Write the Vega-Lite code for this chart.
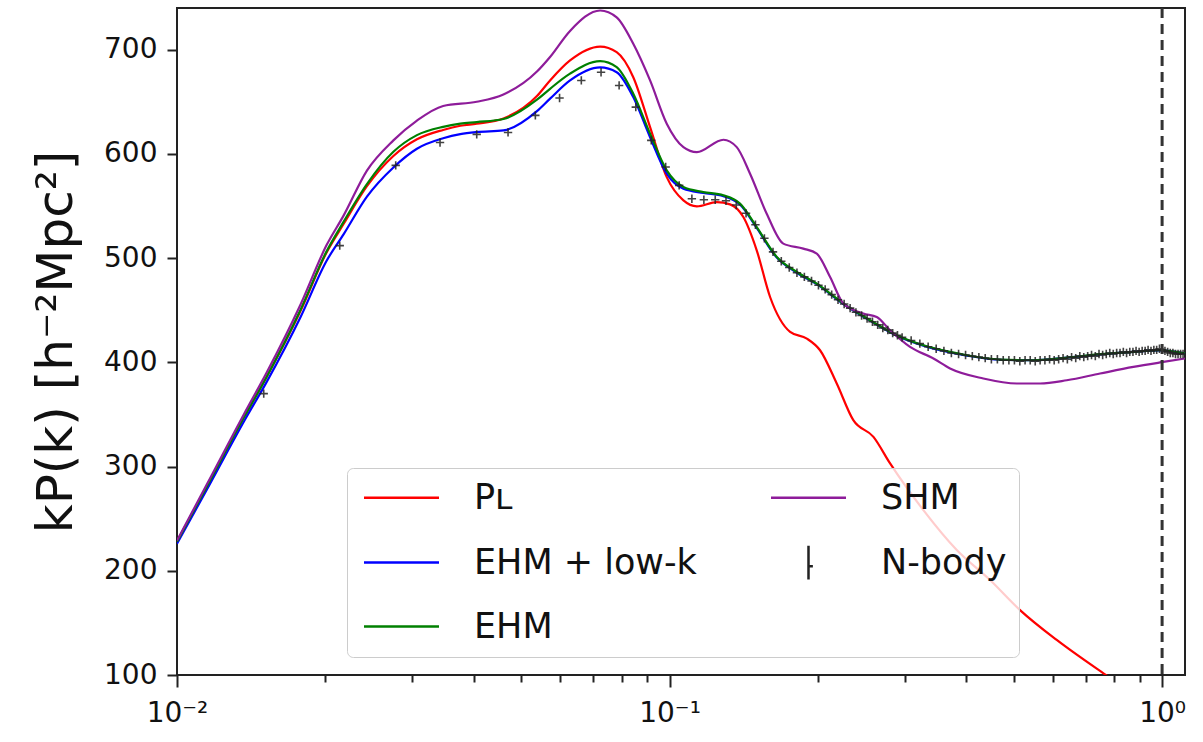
{
  "$schema": "https://vega.github.io/schema/vega-lite/v6.json",
  "width": 1008,
  "height": 667,
  "autosize": {"type": "none"},
  "padding": {"left": 177, "top": 8, "right": 18, "bottom": 67},
  "background": "white",
  "config": {
    "font": "DejaVu Sans",
    "view": {"stroke": "#222", "strokeWidth": 2}
  },
  "datasets": {
    "pl": [
      {"k": 0.0100, "v": 228}, {"k": 0.0115, "v": 281}, {"k": 0.0137, "v": 348}, {"k": 0.0152, "v": 386},
      {"k": 0.0178, "v": 449}, {"k": 0.0201, "v": 505}, {"k": 0.0218, "v": 533}, {"k": 0.0243, "v": 569},
      {"k": 0.0275, "v": 598}, {"k": 0.0307, "v": 614}, {"k": 0.0347, "v": 623}, {"k": 0.0376, "v": 627},
      {"k": 0.0406, "v": 629}, {"k": 0.0460, "v": 634}, {"k": 0.0538, "v": 655.5}, {"k": 0.0572, "v": 670.5},
      {"k": 0.0628, "v": 689.7}, {"k": 0.0723, "v": 703}, {"k": 0.0781, "v": 697.6}, {"k": 0.0844, "v": 673.6},
      {"k": 0.0913, "v": 625.7}, {"k": 0.0987, "v": 577.7}, {"k": 0.1067, "v": 555.4}, {"k": 0.1136, "v": 549.7},
      {"k": 0.1247, "v": 553.8}, {"k": 0.1327, "v": 551.6}, {"k": 0.1412, "v": 539.4}, {"k": 0.1503, "v": 507.5},
      {"k": 0.1600, "v": 462.7}, {"k": 0.1757, "v": 429.2}, {"k": 0.1900, "v": 422.8}, {"k": 0.2021, "v": 411.6},
      {"k": 0.2185, "v": 379.7}, {"k": 0.2361, "v": 344.5}, {"k": 0.2594, "v": 328.5}, {"k": 0.2804, "v": 303},
      {"k": 0.3276, "v": 258.2}, {"k": 0.3829, "v": 219.9}, {"k": 0.4474, "v": 191.1}, {"k": 0.5147, "v": 162.3},
      {"k": 0.6110, "v": 133.6}, {"k": 0.7602, "v": 101.6}, {"k": 0.85, "v": 86}, {"k": 1.0, "v": 64}, {"k": 1.12, "v": 52}
    ],
    "lowk": [
      {"k": 0.0100, "v": 226}, {"k": 0.0115, "v": 278}, {"k": 0.0137, "v": 344}, {"k": 0.0152, "v": 381},
      {"k": 0.0178, "v": 443}, {"k": 0.0201, "v": 497}, {"k": 0.0218, "v": 523}, {"k": 0.0243, "v": 559},
      {"k": 0.0275, "v": 587}, {"k": 0.0307, "v": 605}, {"k": 0.0347, "v": 615}, {"k": 0.0376, "v": 619},
      {"k": 0.0406, "v": 621}, {"k": 0.0460, "v": 622.5}, {"k": 0.0538, "v": 641}, {"k": 0.0572, "v": 653},
      {"k": 0.0628, "v": 670.5}, {"k": 0.0723, "v": 683}, {"k": 0.0781, "v": 678.4}, {"k": 0.0844, "v": 654.5},
      {"k": 0.0913, "v": 616}, {"k": 0.0987, "v": 581}, {"k": 0.1067, "v": 566.5}, {"k": 0.1171, "v": 562.5},
      {"k": 0.1286, "v": 559.5}, {"k": 0.1390, "v": 551.5}, {"k": 0.1503, "v": 529}, {"k": 0.1651, "v": 500.5},
      {"k": 0.1813, "v": 486}, {"k": 0.1990, "v": 475}, {"k": 0.2254, "v": 456}, {"k": 0.2553, "v": 440},
      {"k": 0.2892, "v": 425.5}, {"k": 0.3276, "v": 416}, {"k": 0.3711, "v": 409.5}, {"k": 0.4013, "v": 406.5},
      {"k": 0.4690, "v": 402.5}, {"k": 0.5471, "v": 402}, {"k": 0.6405, "v": 404.5}, {"k": 0.7484, "v": 407.5},
      {"k": 0.8733, "v": 410}, {"k": 0.9906, "v": 411.5}, {"k": 1.113, "v": 408.5}
    ],
    "ehm": [
      {"k": 0.0100, "v": 228}, {"k": 0.0115, "v": 281}, {"k": 0.0137, "v": 348}, {"k": 0.0152, "v": 386},
      {"k": 0.0178, "v": 450}, {"k": 0.0201, "v": 506}, {"k": 0.0218, "v": 535}, {"k": 0.0243, "v": 571},
      {"k": 0.0275, "v": 602}, {"k": 0.0307, "v": 618}, {"k": 0.0347, "v": 626}, {"k": 0.0376, "v": 629},
      {"k": 0.0406, "v": 630.5}, {"k": 0.0460, "v": 633.5}, {"k": 0.0538, "v": 652}, {"k": 0.0572, "v": 662.5},
      {"k": 0.0628, "v": 677}, {"k": 0.0723, "v": 689}, {"k": 0.0781, "v": 683.3}, {"k": 0.0844, "v": 657.7},
      {"k": 0.0913, "v": 619.4}, {"k": 0.0987, "v": 584.2}, {"k": 0.1067, "v": 568.2}, {"k": 0.1171, "v": 563.4},
      {"k": 0.1286, "v": 560.2}, {"k": 0.1390, "v": 552.3}, {"k": 0.1503, "v": 529.8}, {"k": 0.1651, "v": 501.1},
      {"k": 0.1813, "v": 486.7}, {"k": 0.1990, "v": 475.6}, {"k": 0.2254, "v": 456.4}, {"k": 0.2553, "v": 440.4},
      {"k": 0.2892, "v": 426}, {"k": 0.3276, "v": 416.4}, {"k": 0.3711, "v": 410}, {"k": 0.4013, "v": 406.8},
      {"k": 0.4690, "v": 402.7}, {"k": 0.5471, "v": 402}, {"k": 0.6405, "v": 404.6}, {"k": 0.7484, "v": 407.8},
      {"k": 0.8733, "v": 410}, {"k": 0.9906, "v": 411.6}, {"k": 1.113, "v": 408.7}
    ],
    "shm": [
      {"k": 0.0100, "v": 229}, {"k": 0.0115, "v": 283}, {"k": 0.0137, "v": 351}, {"k": 0.0152, "v": 390},
      {"k": 0.0178, "v": 455}, {"k": 0.0201, "v": 512}, {"k": 0.0218, "v": 541}, {"k": 0.0243, "v": 584},
      {"k": 0.0275, "v": 613}, {"k": 0.0307, "v": 632}, {"k": 0.0347, "v": 646}, {"k": 0.0406, "v": 650},
      {"k": 0.0460, "v": 657}, {"k": 0.0538, "v": 679}, {"k": 0.0572, "v": 693}, {"k": 0.0628, "v": 718},
      {"k": 0.0723, "v": 737.6}, {"k": 0.0781, "v": 731}, {"k": 0.0844, "v": 705.7}, {"k": 0.0913, "v": 670.5},
      {"k": 0.0987, "v": 629}, {"k": 0.1067, "v": 606.5}, {"k": 0.1136, "v": 601.7}, {"k": 0.1286, "v": 613.6},
      {"k": 0.1369, "v": 606.5}, {"k": 0.1457, "v": 581}, {"k": 0.1575, "v": 542.6}, {"k": 0.1702, "v": 513.9},
      {"k": 0.1869, "v": 509.1}, {"k": 0.1990, "v": 504.3}, {"k": 0.2118, "v": 481.9}, {"k": 0.2254, "v": 456.4},
      {"k": 0.2474, "v": 446.8}, {"k": 0.2634, "v": 443.5}, {"k": 0.2804, "v": 430.8}, {"k": 0.3078, "v": 414.8},
      {"k": 0.3434, "v": 403.7}, {"k": 0.3711, "v": 394.1}, {"k": 0.4336, "v": 384.5}, {"k": 0.5070, "v": 379.7},
      {"k": 0.5652, "v": 379.7}, {"k": 0.6405, "v": 382.8}, {"k": 0.7484, "v": 389.3}, {"k": 0.8745, "v": 395.6},
      {"k": 1.006, "v": 400.4}, {"k": 1.113, "v": 403.7}
    ],
    "nbody": [
      {"k": 0.0150, "v": 370}, {"k": 0.0214, "v": 512}, {"k": 0.0278, "v": 589}, {"k": 0.0342, "v": 611},
      {"k": 0.0406, "v": 618.7}, {"k": 0.0470, "v": 620.6}, {"k": 0.0534, "v": 637}, {"k": 0.0598, "v": 653.6},
      {"k": 0.0662, "v": 670.5}, {"k": 0.0726, "v": 678.4}, {"k": 0.0790, "v": 665.7}, {"k": 0.0854, "v": 644.9},
      {"k": 0.0918, "v": 613}, {"k": 0.0982, "v": 587.4}, {"k": 0.1046, "v": 569.8}, {"k": 0.1110, "v": 557},
      {"k": 0.1174, "v": 556}, {"k": 0.1238, "v": 556}, {"k": 0.1302, "v": 555}, {"k": 0.1366, "v": 551},
      {"k": 0.1430, "v": 543}, {"k": 0.1494, "v": 532}, {"k": 0.1558, "v": 519}, {"k": 0.1622, "v": 506},
      {"k": 0.1686, "v": 497}, {"k": 0.1750, "v": 491}, {"k": 0.1814, "v": 486}, {"k": 0.1878, "v": 482},
      {"k": 0.1942, "v": 478}, {"k": 0.2006, "v": 474}, {"k": 0.2070, "v": 470}, {"k": 0.2134, "v": 465},
      {"k": 0.2198, "v": 460}, {"k": 0.2262, "v": 456}, {"k": 0.2326, "v": 452}, {"k": 0.2390, "v": 448},
      {"k": 0.2454, "v": 445}, {"k": 0.2518, "v": 442}, {"k": 0.2582, "v": 439}, {"k": 0.2646, "v": 436},
      {"k": 0.2710, "v": 433}, {"k": 0.2774, "v": 431}, {"k": 0.2838, "v": 428}, {"k": 0.2902, "v": 426},
      {"k": 0.2966, "v": 424}, {"k": 0.3094, "v": 421}, {"k": 0.3222, "v": 418}, {"k": 0.3350, "v": 415},
      {"k": 0.3478, "v": 413}, {"k": 0.3606, "v": 411}, {"k": 0.3734, "v": 409}, {"k": 0.3862, "v": 408},
      {"k": 0.3990, "v": 407}, {"k": 0.4118, "v": 406}, {"k": 0.4246, "v": 405}, {"k": 0.4374, "v": 404},
      {"k": 0.4502, "v": 403}, {"k": 0.4630, "v": 403}, {"k": 0.4758, "v": 402}, {"k": 0.4886, "v": 402},
      {"k": 0.5014, "v": 402}, {"k": 0.5142, "v": 401}, {"k": 0.5270, "v": 402}, {"k": 0.5398, "v": 402},
      {"k": 0.5526, "v": 401}, {"k": 0.5654, "v": 402}, {"k": 0.5782, "v": 402}, {"k": 0.5910, "v": 403},
      {"k": 0.6038, "v": 402}, {"k": 0.6166, "v": 403}, {"k": 0.6294, "v": 404}, {"k": 0.6422, "v": 403},
      {"k": 0.6550, "v": 405}, {"k": 0.6678, "v": 404}, {"k": 0.6806, "v": 406}, {"k": 0.6934, "v": 405},
      {"k": 0.7062, "v": 406}, {"k": 0.7190, "v": 407}, {"k": 0.7318, "v": 406}, {"k": 0.7446, "v": 408},
      {"k": 0.7574, "v": 407}, {"k": 0.7702, "v": 408}, {"k": 0.7830, "v": 409}, {"k": 0.7958, "v": 408},
      {"k": 0.8086, "v": 409}, {"k": 0.8214, "v": 409}, {"k": 0.8342, "v": 410}, {"k": 0.8470, "v": 409},
      {"k": 0.8598, "v": 410}, {"k": 0.8726, "v": 410}, {"k": 0.8854, "v": 411}, {"k": 0.8982, "v": 410},
      {"k": 0.9110, "v": 411}, {"k": 0.9238, "v": 411}, {"k": 0.9366, "v": 412}, {"k": 0.9494, "v": 411},
      {"k": 0.9622, "v": 412}, {"k": 0.9750, "v": 412}, {"k": 0.9878, "v": 413}, {"k": 1.0006, "v": 412},
      {"k": 1.0134, "v": 411}, {"k": 1.0262, "v": 410}, {"k": 1.0390, "v": 409}, {"k": 1.0518, "v": 409},
      {"k": 1.0646, "v": 408}, {"k": 1.0774, "v": 408}, {"k": 1.0902, "v": 408}, {"k": 1.1030, "v": 408}
    ],
    "vline": [{"k": 1}]
  },
  "layer": [
    {
      "data": {"name": "pl"},
      "mark": {"type": "line", "clip": true, "strokeWidth": 2.2, "interpolate": "monotone"},
      "encoding": {
        "x": {
          "field": "k", "type": "quantitative",
          "scale": {"type": "log", "domain": [0.01, 1.113], "nice": false},
          "axis": {
            "title": null,
            "grid": false,
            "domain": false,
            "values": [0.01, 0.02, 0.03, 0.04, 0.05, 0.06, 0.07, 0.08, 0.09, 0.1, 0.2, 0.3, 0.4, 0.5, 0.6, 0.7, 0.8, 0.9, 1],
            "labelExpr": "datum.value == 0.01 ? '10⁻²' : (datum.value == 0.1 ? '10⁻¹' : (datum.value == 1 ? '10⁰' : ''))",
            "labelOverlap": false,
            "labelFlush": false,
            "labelBound": false,
            "labelFontSize": 28,
            "labelColor": "#111",
            "labelPadding": 12,
            "tickColor": "#222",
            "tickWidth": 2,
            "tickSize": {"condition": {"test": "datum.value == 0.01 || datum.value == 0.1 || datum.value == 1", "value": 12}, "value": 7}
          }
        },
        "y": {
          "field": "v", "type": "quantitative",
          "scale": {"domain": [100, 740], "nice": false, "zero": false},
          "axis": {
            "title": "kP(k) [h⁻²Mpc²]",
            "titleFontSize": 50,
            "titleFontWeight": "normal",
            "titleColor": "#111",
            "titlePadding": 22,
            "grid": false,
            "domain": false,
            "values": [100, 200, 300, 400, 500, 600, 700],
            "labelFontSize": 28,
            "labelColor": "#111",
            "labelPadding": 10,
            "tickColor": "#222",
            "tickWidth": 2,
            "tickSize": 10
          }
        },
        "color": {
          "datum": "P_L",
          "type": "nominal",
          "scale": {
            "domain": ["P_L", "EHM + low-k", "EHM", "SHM", "N-body"],
            "range": ["#ff0000", "#0000ff", "#008000", "#8e1c9a", "#222222"]
          },
          "legend": {
            "title": null,
            "orient": "none",
            "legendX": 170,
            "legendY": 460,
            "columns": 2,
            "columnPadding": 69,
            "rowPadding": 24,
            "padding": 12,
            "fillColor": "rgba(255,255,255,0.8)",
            "strokeColor": "#cccccc",
            "cornerRadius": 6,
            "labelFontSize": 35,
            "labelColor": "#111",
            "labelLimit": 500,
            "labelOffset": 80,
            "labelExpr": "datum.label == 'P_L' ? 'Pʟ' : datum.label",
            "symbolType": "M-1,0L5,0",
            "symbolSize": 625,
            "symbolStrokeWidth": 2.5,
            "encoding": {
              "symbols": {
                "shape": {
                  "condition": {"test": "datum.value == 'N-body'", "value": "M2,-1.35L2,1.35M2,0.3L2.35,0.3"},
                  "value": "M-1,0L5,0"
                }
              }
            }
          }
        }
      }
    },
    {
      "data": {"name": "lowk"},
      "mark": {"type": "line", "clip": true, "strokeWidth": 2.2, "interpolate": "monotone"},
      "encoding": {
        "x": {"field": "k", "type": "quantitative"},
        "y": {"field": "v", "type": "quantitative"},
        "color": {"datum": "EHM + low-k", "type": "nominal"}
      }
    },
    {
      "data": {"name": "ehm"},
      "mark": {"type": "line", "clip": true, "strokeWidth": 2.2, "interpolate": "monotone"},
      "encoding": {
        "x": {"field": "k", "type": "quantitative"},
        "y": {"field": "v", "type": "quantitative"},
        "color": {"datum": "EHM", "type": "nominal"}
      }
    },
    {
      "data": {"name": "shm"},
      "mark": {"type": "line", "clip": true, "strokeWidth": 2.2, "interpolate": "monotone"},
      "encoding": {
        "x": {"field": "k", "type": "quantitative"},
        "y": {"field": "v", "type": "quantitative"},
        "color": {"datum": "SHM", "type": "nominal"}
      }
    },
    {
      "data": {"name": "nbody"},
      "mark": {"type": "point", "clip": true, "filled": false, "shape": "M-1,0L1,0M0,-1L0,1", "size": 70, "strokeWidth": 1.6, "opacity": 0.85},
      "encoding": {
        "x": {"field": "k", "type": "quantitative"},
        "y": {"field": "v", "type": "quantitative"},
        "color": {"datum": "N-body", "type": "nominal"}
      }
    },
    {
      "data": {"name": "vline"},
      "mark": {"type": "rule", "strokeDash": [10, 6], "strokeWidth": 3, "color": "#333"},
      "encoding": {
        "x": {"field": "k", "type": "quantitative"}
      }
    }
  ]
}
